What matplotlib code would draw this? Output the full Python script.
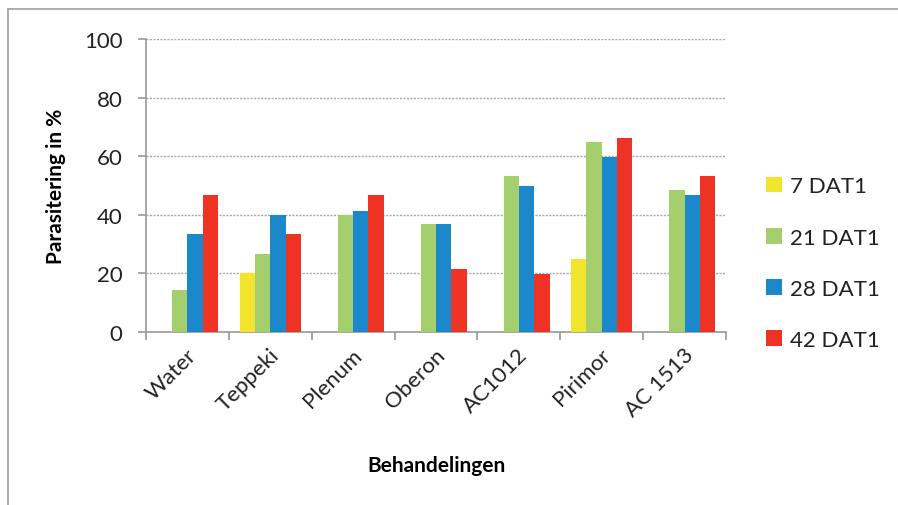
import numpy as np
import matplotlib
matplotlib.use('Agg')
from matplotlib import pyplot as plt
from matplotlib.lines import Line2D
from matplotlib.transforms import ScaledTranslation

plt.rcParams['font.family'] = ['Lato', 'DejaVu Sans']

treatments = ['Water', 'Teppeki', 'Plenum', 'Oberon', 'AC1012', 'Pirimor', 'AC 1513']
series_names = ['7 DAT1', '21 DAT1', '28 DAT1', '42 DAT1']
dat7 = [0, 20, 0, 0, 0, 25, 0]
dat21 = [14.5, 26.7, 40, 36.7, 53.3, 64.8, 48.5]
dat28 = [33.3, 40, 41.4, 36.7, 49.8, 59.8, 46.7]
dat42 = [46.7, 33.3, 46.7, 21.4, 19.8, 66.2, 53.3]
colors = ['#F1E52E', '#A5CE6C', '#1B88CC', '#EE3224']

fig = plt.figure(figsize=(8.98, 5.06), dpi=100)
ax = fig.add_axes([0.1626, 0.3419, 0.6459, 0.579])

x = np.arange(len(treatments))
w = 0.185
for i, (vals, name, col) in enumerate(zip([dat7, dat21, dat28, dat42], series_names, colors)):
    ax.bar(x + (i - 1.5) * w, vals, width=w, color=col, label=name, zorder=3)

ax.set_xlim(-0.5, len(treatments) - 0.5)
ax.set_ylim(0, 100)
ax.set_yticks([0, 20, 40, 60, 80, 100])

# dotted grid lines
ax.yaxis.grid(True, color='#a8a8a8', linestyle=(0, (1.5, 1.0)), linewidth=1.0, zorder=0)
ax.set_axisbelow(True)

for s in ['top', 'right']:
    ax.spines[s].set_visible(False)
for s in ['left', 'bottom']:
    ax.spines[s].set_color('#9a9a9a')
    ax.spines[s].set_linewidth(1.2)

# category ticks between groups
ax.set_xticks(np.arange(-0.5, len(treatments), 1.0))
ax.set_xticklabels([])
ax.set_xticks(x, minor=True)
ax.set_xticklabels(treatments, minor=True, rotation=45, ha='right', va='center',
                   rotation_mode='anchor', fontsize=16, color='#222222')
ax.tick_params(axis='x', which='minor', length=0, pad=14)
ax.tick_params(axis='x', which='major', length=6, color='#9a9a9a', width=1.2, direction='out')
ax.tick_params(axis='y', length=6, color='#9a9a9a', width=1.2, pad=11, labelsize=16,
               labelcolor='#222222')
off = ScaledTranslation(4 / 72, 0, fig.dpi_scale_trans)
for lab in ax.get_xticklabels(minor=True):
    lab.set_transform(lab.get_transform() + off)

ax.set_xlabel('Behandelingen', fontsize=15, fontweight='bold')
ax.set_ylabel('Parasitering in %', fontsize=15, fontweight='bold')
ax.xaxis.set_label_coords(0.5, -0.42)
ax.yaxis.set_label_coords(-0.138, 0.5)

ax.legend(loc='center left', bbox_to_anchor=(1.035, 0.235), frameon=False, fontsize=16,
          handlelength=0.7, handleheight=0.7, handletextpad=0.35, labelspacing=1.4,
          labelcolor='#222222')

# outer frame of the chart area
fig.add_artist(Line2D([8 / 898, 8 / 898], [0, 1 - 10 / 506], color='#a0a0a0', lw=1.2))
fig.add_artist(Line2D([8 / 898, 1], [1 - 10 / 506, 1 - 10 / 506], color='#a0a0a0', lw=1.2))

fig.savefig('out.png', dpi=100)
